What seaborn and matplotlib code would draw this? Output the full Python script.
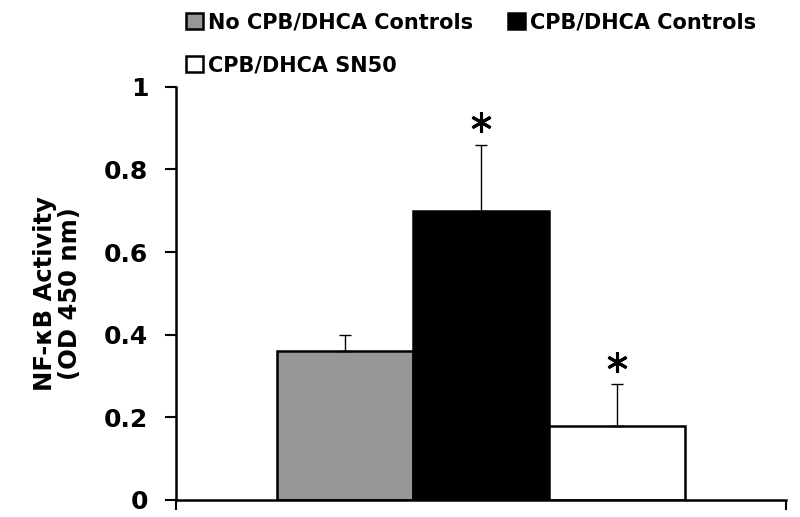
import matplotlib
matplotlib.use("Agg")
import matplotlib.pyplot as plt
import seaborn as sns
import pandas as pd

groups = ["No CPB/DHCA Controls", "CPB/DHCA Controls", "CPB/DHCA SN50"]
means = [0.36, 0.70, 0.18]
errors = [0.04, 0.16, 0.10]
significant = [False, True, True]
colors = ["#969696", "#000000", "#ffffff"]
yticks = [0, 0.2, 0.4, 0.6, 0.8, 1]
ytick_labels = ["0", "0.2", "0.4", "0.6", "0.8", "1"]

sns.set_theme(style="ticks")
plt.rcParams['font.family'] = ['DejaVu Sans']
plt.rcParams.update({"text.color": "black", "axes.labelcolor": "black",
                     "xtick.color": "black", "ytick.color": "black",
                     "axes.edgecolor": "black"})

df = pd.DataFrame({"cat": ["A"] * 3, "group": groups, "value": means})

fig = plt.figure(figsize=(8, 5.17), dpi=100)
ax = fig.add_axes([0.22, 0.033, 0.7625, 0.799])

sns.barplot(data=df, x="cat", y="value", hue="group", hue_order=groups,
            palette=colors, edgecolor="black", linewidth=1.8, width=0.669,
            errorbar=None, saturation=1, ax=ax, legend=True)

bars = [p for p in ax.patches if p.get_height() > 0][:3]
for bar, m, e, sig in zip(bars, means, errors, significant):
    cx = bar.get_x() + bar.get_width() / 2
    ax.errorbar([cx], [m], yerr=[[0], [e]], fmt="none", ecolor="black",
                elinewidth=1.0, capsize=4, capthick=1.0)
    if sig:
        ax.plot([cx], [m + e + 0.055], marker=(6, 2, 0), markersize=15,
                markeredgewidth=2.2, color="black", linestyle="none")

ax.set_xlim(-0.5, 0.5)
ax.set_ylim(0, 1)
ax.set_yticks(yticks)
ax.set_yticklabels(ytick_labels, fontsize=18, fontweight="bold", color="black")
ax.set_xticks([-0.5, 0.5])
ax.set_xticklabels(["", ""])
ax.tick_params(axis="x", direction="out", length=7, width=1.5, color="black")
ax.tick_params(axis="y", direction="out", length=8, width=1.5, color="black", pad=12)
ax.set_xlabel("")
ax.set_ylabel("NF-κB Activity\n(OD 450 nm)", fontsize=17.5, fontweight="bold",
              labelpad=16, linespacing=1.05, color="black")
for s in ["top", "right"]:
    ax.spines[s].set_visible(False)
for s in ["left", "bottom"]:
    ax.spines[s].set_linewidth(1.8)
    ax.spines[s].set_color("black")

handles, labels = ax.get_legend_handles_labels()
order = [0, 2, 1]
leg = ax.legend([handles[i] for i in order], [labels[i] for i in order],
                ncol=2, loc="upper left", bbox_to_anchor=(0.2325, 0.976),
                bbox_transform=fig.transFigure, frameon=False,
                prop={"weight": "bold", "size": 15},
                handlelength=0.8, handleheight=0.8, handletextpad=0.25,
                columnspacing=1.7, labelspacing=1.1, borderaxespad=0, borderpad=0)
for t in leg.get_texts():
    t.set_color("black")

fig.savefig("out.png", dpi=100)
